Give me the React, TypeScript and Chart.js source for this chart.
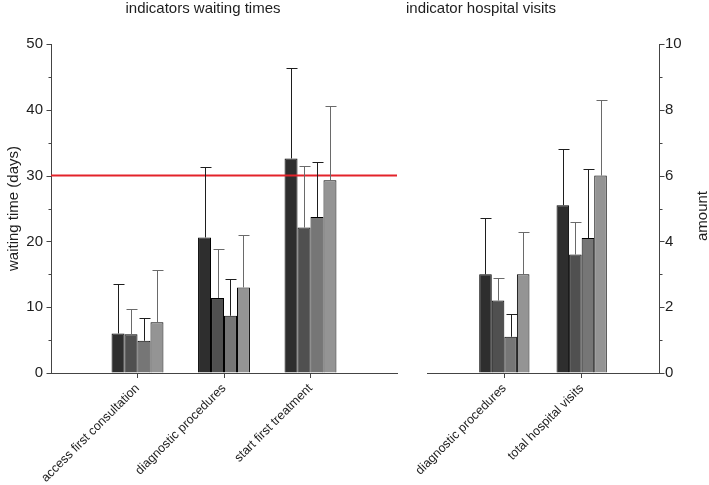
import React, { useEffect, useRef } from 'react';
import { Chart, registerables } from 'chart.js';

Chart.register(...registerables);
Chart.defaults.font.family = '"Liberation Sans", Arial, sans-serif';

// ---------- data ----------
const waitCategories = ['access first consultation', 'diagnostic procedures', 'start first treatment'];
const waitGroupA = [6.0, 20.6, 32.6];
const waitGroupB = [5.9, 11.4, 22.1];
const waitGroupC = [4.9, 8.7, 23.7];
const waitGroupD = [7.7, 13.0, 29.3];
const waitErrA = [7.5, 10.7, 13.8];
const waitErrB = [3.9, 7.4, 9.3];
const waitErrC = [3.5, 5.6, 8.4];
const waitErrD = [8.0, 8.0, 11.3];
const WAIT_LIMIT = 30;
const waitTicksMax = 50;

const visitCategories = ['diagnostic procedures', 'total hospital visits'];
const visitGroupA = [3.0, 5.1];
const visitGroupB = [2.2, 3.6];
const visitGroupC = [1.1, 4.1];
const visitGroupD = [3.0, 6.0];
const visitErrA = [1.7, 1.7];
const visitErrB = [0.7, 1.0];
const visitErrC = [0.7, 2.1];
const visitErrD = [1.3, 2.3];
const visitTicksMax = 10;

const panelTitles = ['indicators waiting times', 'indicator hospital visits'];
const yTitles = ['waiting time (days)', 'amount'];

// ---------- styling ----------
const barColors = ['#2e2e2e', '#505050', '#767676', '#949494'];
const errColors = ['#1e1e1e', '#6a6a6a', '#1e1e1e', '#6a6a6a'];
const axisColor = '#444444';
const textColor = '#1e1e1e';

const pad = (a: (number | null)[]) => [null, ...a, null];

function makeBars(groups: number[][], errs: number[][]) {
  return groups.map((g, i) => ({
    type: 'bar' as const,
    data: pad(g),
    errors: pad(errs[i]),
    errorColor: errColors[i],
    backgroundColor: barColors[i],
    borderColor: '#000000',
    borderWidth: 1,
    order: 1,
  }));
}

const errorBarPlugin = {
  id: 'errorBars',
  afterDatasetsDraw(chart: any) {
    const ctx = chart.ctx;
    const ys = chart.scales.y;
    chart.data.datasets.forEach((ds: any, i: number) => {
      if (!ds.errors) return;
      const meta = chart.getDatasetMeta(i);
      meta.data.forEach((el: any, j: number) => {
        const v = ds.data[j];
        const e = ds.errors[j];
        if (v == null || e == null) return;
        const x = Math.round(el.x) + 0.5;
        const yTop = Math.round(ys.getPixelForValue(v + e)) + 0.5;
        ctx.save();
        ctx.strokeStyle = ds.errorColor;
        ctx.lineWidth = 1;
        ctx.beginPath();
        ctx.moveTo(x, el.y);
        ctx.lineTo(x, yTop);
        ctx.moveTo(x - 5, yTop);
        ctx.lineTo(x + 6, yTop);
        ctx.stroke();
        ctx.restore();
      });
    });
  },
};

function makeTickPlugin(major: number) {
  return {
    id: 'axisTicks',
    afterDraw(chart: any) {
      const s = chart.scales.y;
      const ctx = chart.ctx;
      const left = s.position === 'left';
      const x0 = Math.round(left ? chart.chartArea.left : chart.chartArea.right) + 0.5;
      ctx.save();
      ctx.strokeStyle = axisColor;
      ctx.lineWidth = 1;
      s.ticks.forEach((t: any) => {
        const py = Math.round(s.getPixelForValue(t.value)) + 0.5;
        const len = t.value % major === 0 ? 5 : 3;
        ctx.beginPath();
        ctx.moveTo(x0, py);
        ctx.lineTo(x0 + (left ? -len : len), py);
        ctx.stroke();
      });
      ctx.restore();
    },
  };
}

type TextItem = { text: string; x: number; y: number; rotation?: number; size: number };
function makeTextPlugin(items: TextItem[]) {
  return {
    id: 'panelText',
    afterDraw(chart: any) {
      const ctx = chart.ctx;
      items.forEach((it) => {
        ctx.save();
        ctx.font = `${it.size}px "Liberation Sans", Arial, sans-serif`;
        ctx.fillStyle = textColor;
        ctx.textAlign = 'center';
        ctx.textBaseline = 'alphabetic';
        ctx.translate(it.x, it.y);
        ctx.rotate(it.rotation || 0);
        ctx.fillText(it.text, 0, 0);
        ctx.restore();
      });
    },
  };
}

function xScale(labelCount: number, height: number) {
  return {
    type: 'category' as const,
    offset: false,
    grid: {
      offset: false,
      drawOnChartArea: false,
      tickLength: 5,
      tickColor: (c: any) => (c.index === 0 || c.index === labelCount - 1 ? 'rgba(0,0,0,0)' : axisColor),
    },
    border: { color: axisColor },
    ticks: { autoSkip: false, minRotation: 45, maxRotation: 45, font: { size: 12.5 }, color: textColor, padding: 3 },
    afterFit: (s: any) => {
      s.height = height;
      s.paddingLeft = 0;
      s.paddingRight = 0;
    },
  };
}

function leftConfig(): any {
  const labels = ['', ...waitCategories, ''];
  return {
    type: 'bar',
    data: {
      labels,
      datasets: [
        {
          type: 'line',
          data: labels.map(() => WAIT_LIMIT),
          borderColor: '#e3232a',
          borderWidth: 2,
          pointRadius: 0,
          order: 0,
        },
        ...makeBars([waitGroupA, waitGroupB, waitGroupC, waitGroupD], [waitErrA, waitErrB, waitErrC, waitErrD]),
      ],
    },
    options: {
      responsive: false,
      animation: false,
      layout: { padding: { left: 0, right: 5, top: 44, bottom: 0 } },
      plugins: { legend: { display: false }, tooltip: { enabled: false }, title: { display: false } },
      datasets: { bar: { categoryPercentage: 0.6, barPercentage: 1 } },
      scales: {
        x: xScale(labels.length, 112),
        y: {
          position: 'left',
          min: 0,
          max: waitTicksMax,
          ticks: {
            stepSize: 5,
            callback: (v: any) => (v % 10 === 0 ? String(v) : ''),
            font: { size: 15 },
            color: textColor,
            padding: 3,
          },
          grid: { drawOnChartArea: false, tickLength: 5, tickColor: 'rgba(0,0,0,0)' },
          border: { color: axisColor },
          title: {
            display: true,
            text: yTitles[0],
            font: { size: 15 },
            color: textColor,
            padding: { top: 5, bottom: 0 },
          },
          afterFit: (s: any) => {
            s.width = 51;
          },
        },
      },
    },
    plugins: [
      errorBarPlugin,
      makeTickPlugin(10),
      makeTextPlugin([{ text: panelTitles[0], x: 203, y: 13, size: 15 }]),
    ],
  };
}

const RIGHT_X0 = 402;

function rightConfig(): any {
  const labels = ['', ...visitCategories, ''];
  return {
    type: 'bar',
    data: {
      labels,
      datasets: makeBars([visitGroupA, visitGroupB, visitGroupC, visitGroupD], [visitErrA, visitErrB, visitErrC, visitErrD]),
    },
    options: {
      responsive: false,
      animation: false,
      layout: { padding: { left: 25, right: 0, top: 44, bottom: 0 } },
      plugins: { legend: { display: false }, tooltip: { enabled: false }, title: { display: false } },
      datasets: { bar: { categoryPercentage: 0.65, barPercentage: 1 } },
      scales: {
        x: xScale(labels.length, 112),
        y: {
          position: 'right',
          min: 0,
          max: visitTicksMax,
          ticks: {
            stepSize: 1,
            callback: (v: any) => (v % 2 === 0 ? String(v) : ''),
            font: { size: 15 },
            color: textColor,
            padding: 1,
          },
          grid: { drawOnChartArea: false, tickLength: 5, tickColor: 'rgba(0,0,0,0)' },
          border: { color: axisColor },
          afterFit: (s: any) => {
            s.width = 50;
          },
        },
      },
    },
    plugins: [
      errorBarPlugin,
      makeTickPlugin(2),
      makeTextPlugin([
        { text: panelTitles[1], x: 481 - RIGHT_X0, y: 13, size: 15 },
        { text: yTitles[1], x: 707 - RIGHT_X0, y: 216, size: 15, rotation: -Math.PI / 2 },
      ]),
    ],
  };
}

function ChartCanvas({ make, left, width }: { make: () => any; left: number; width: number }) {
  const ref = useRef<HTMLCanvasElement | null>(null);
  useEffect(() => {
    if (!ref.current) return;
    const chart = new Chart(ref.current, make());
    return () => chart.destroy();
  }, [make]);
  return (
    <canvas
      ref={ref}
      width={width}
      height={485}
      style={{ position: 'absolute', left, top: 0, width, height: 485 }}
    />
  );
}

export default function App() {
  return (
    <div style={{ position: 'fixed', left: 0, top: 0, width: 709, height: 485, background: '#ffffff', overflow: 'hidden' }}>
      <ChartCanvas make={leftConfig} left={0} width={402} />
      <ChartCanvas make={rightConfig} left={RIGHT_X0} width={709 - RIGHT_X0} />
    </div>
  );
}
